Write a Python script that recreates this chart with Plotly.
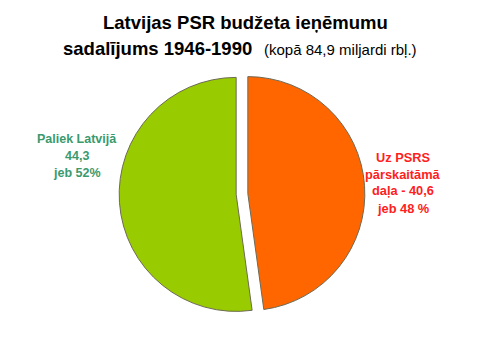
import plotly.graph_objects as go

W, H = 500, 339

labels = ["Uz PSRS pārskaitāmā daļa", "Paliek Latvijā"]
values = [40.6, 44.3]
colors = ["#ff6600", "#99cc00"]
title_line1 = "Latvijas PSR budžeta ieņēmumu"
title_line2 = "sadalījums 1946-1990"
title_note = "(kopā 84,9 miljardi rbļ.)"
label_right_lines = ["Uz PSRS", "pārskaitāmā", "daļa - 40,6", "jeb 48 %"]
label_left_lines = ["Paliek Latvijā", "44,3", "jeb 52%"]

def px(x):
    return x / W

def py(y):
    return 1 - y / H

cx, cy, r, pull = 242, 194, 117, 0.05
half = r * (1 + pull)

fig = go.Figure(go.Pie(
    labels=labels, values=values, sort=False, direction="clockwise", rotation=0,
    marker=dict(colors=colors, line=dict(color="#6e6a55", width=1)),
    pull=[pull, pull], textinfo="none", hoverinfo="label+value+percent",
    domain=dict(x=[px(cx - half), px(cx + half)], y=[py(cy + half), py(cy - half)]),
    showlegend=False,
))

font = "Liberation Sans, Arial, sans-serif"
ann = [
    dict(text="<b>" + title_line1 + "</b>", x=px(245), y=py(22), xanchor="center", yanchor="middle",
         font=dict(family=font, size=18.5, color="#000000")),
    dict(text="<b>" + title_line2 + "</b>", x=px(61), y=py(48), xanchor="left", yanchor="middle",
         font=dict(family=font, size=18.5, color="#000000")),
    dict(text=title_note, x=px(262), y=py(50), xanchor="left", yanchor="middle",
         font=dict(family=font, size=15, color="#000000")),
]
for i, t in enumerate(label_left_lines):
    ann.append(dict(text="<b>" + t + "</b>", x=px(77), y=py(139 + 17 * i), xanchor="center",
                    yanchor="middle", font=dict(family=font, size=12.5, color="#3a9a6e")))
for i, t in enumerate(label_right_lines):
    ann.append(dict(text="<b>" + t + "</b>", x=px(403), y=py(157 + 17 * i), xanchor="center",
                    yanchor="middle", font=dict(family=font, size=12.8, color="#ff2020")))
for a in ann:
    a.update(xref="paper", yref="paper", showarrow=False)

fig.update_layout(
    width=W, height=H, margin=dict(l=0, r=0, t=0, b=0),
    paper_bgcolor="#ffffff", plot_bgcolor="#ffffff",
    annotations=ann,
)
fig.write_html("out.html")
